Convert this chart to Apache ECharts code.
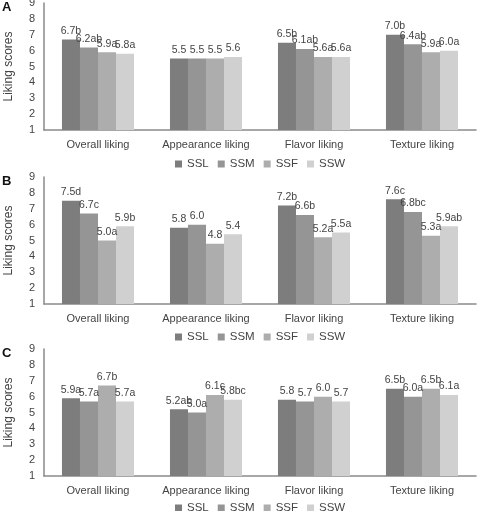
<!DOCTYPE html>
<html>
<head>
<meta charset="utf-8">
<script src="https://cdn.jsdelivr.net/npm/echarts@6/dist/echarts.min.js"></script>
<style>
html, body { margin: 0; padding: 0; background: #fff; }
#chart { width: 480px; height: 511px; }
</style>
</head>
<body>
<div id="chart"></div>
<script>
// categories and series
const categories = ["Overall liking", "Appearance liking", "Flavor liking", "Texture liking"];
const seriesNames = ["SSL", "SSM", "SSF", "SSW"];
const panelLabels = ["A", "B", "C"];
const yTickMin = 1;
const yTickMax = 9;

// rows = SSL, SSM, SSF, SSW ; columns = categories
const scoresA = [
    [6.7, 5.5, 6.5, 7.0],
    [6.2, 5.5, 6.1, 6.4],
    [5.9, 5.5, 5.6, 5.9],
    [5.8, 5.6, 5.6, 6.0]
];
const lettersA = [
    ["b", "", "b", "b"],
    ["ab", "", "ab", "ab"],
    ["a", "", "a", "a"],
    ["a", "", "a", "a"]
];
const scoresB = [
    [7.5, 5.8, 7.2, 7.6],
    [6.7, 6.0, 6.6, 6.8],
    [5.0, 4.8, 5.2, 5.3],
    [5.9, 5.4, 5.5, 5.9]
];
const lettersB = [
    ["d", "", "b", "c"],
    ["c", "", "b", "bc"],
    ["a", "", "a", "a"],
    ["b", "", "a", "ab"]
];
const scoresC = [
    [5.9, 5.2, 5.8, 6.5],
    [5.7, 5.0, 5.7, 6.0],
    [6.7, 6.1, 6.0, 6.5],
    [5.7, 5.8, 5.7, 6.1]
];
const lettersC = [
    ["a", "ab", "", "b"],
    ["a", "a", "", "a"],
    ["b", "c", "", "b"],
    ["a", "bc", "", "a"]
];

let colors = ["#7d7d7d", "#959595", "#adadad", "#d0d0d0"];
let textColor = "#444";
let font = "Liberation Sans, Arial, sans-serif";

let scores = [scoresA, scoresB, scoresC];
let letters = [lettersA, lettersB, lettersC];
let gridTops = [3, 177, 349];
let gridHeight = 127;
let legendTops = [158, 331, 502];

let grids = [], xAxes = [], yAxes = [], legends = [], titles = [], series = [];
for (let p = 0; p < 3; p++) {
    grids.push({ left: 44, right: 4, top: gridTops[p], height: gridHeight, outerBoundsMode: "none", containLabel: false });
    xAxes.push({
        type: "category",
        gridIndex: p,
        data: categories,
        axisTick: { show: false },
        axisLine: { lineStyle: { color: "#8a8a8a", width: 1.5 } },
        axisLabel: { interval: 0, color: textColor, fontSize: 11, fontFamily: font, margin: 9 }
    });
    yAxes.push({
        type: "value",
        gridIndex: p,
        min: yTickMin,
        max: yTickMax,
        interval: 1,
        name: "Liking scores",
        nameLocation: "middle",
        nameGap: 29,
        nameTextStyle: { color: textColor, fontSize: 12, fontFamily: font },
        axisLine: { show: true, lineStyle: { color: "#8a8a8a", width: 1.5 } },
        axisTick: { show: false },
        splitLine: { show: false },
        axisLabel: { color: textColor, fontSize: 11, fontFamily: font, margin: 9 }
    });
    legends.push({
        top: legendTops[p],
        left: 175,
        padding: 0,
        data: seriesNames,
        itemWidth: 7,
        itemHeight: 7,
        itemGap: 9,
        icon: "rect",
        selectedMode: false,
        textStyle: { color: textColor, fontSize: 11.5, fontFamily: font }
    });
    titles.push({
        text: panelLabels[p],
        left: 2,
        top: gridTops[p] - 2,
        padding: 0,
        textStyle: { color: "#111", fontSize: 13, fontWeight: "bold", fontFamily: font }
    });
    for (let s = 0; s < 4; s++) {
        let lt = letters[p][s];
        series.push({
            name: seriesNames[s],
            type: "bar",
            xAxisIndex: p,
            yAxisIndex: p,
            barGap: "0%",
            barCategoryGap: "33.3%",
            itemStyle: { color: colors[s] },
            label: {
                show: true,
                position: "top",
                distance: 3,
                color: textColor,
                fontSize: 10.5,
                fontFamily: font,
                formatter: function (d) {
                    return d.value.toFixed(1) + lt[d.dataIndex];
                }
            },
            data: scores[p][s]
        });
    }
}

let chart = echarts.init(document.getElementById("chart"));
chart.setOption({
    animation: false,
    color: colors,
    title: titles,
    legend: legends,
    grid: grids,
    xAxis: xAxes,
    yAxis: yAxes,
    series: series
});
</script>
</body>
</html>
